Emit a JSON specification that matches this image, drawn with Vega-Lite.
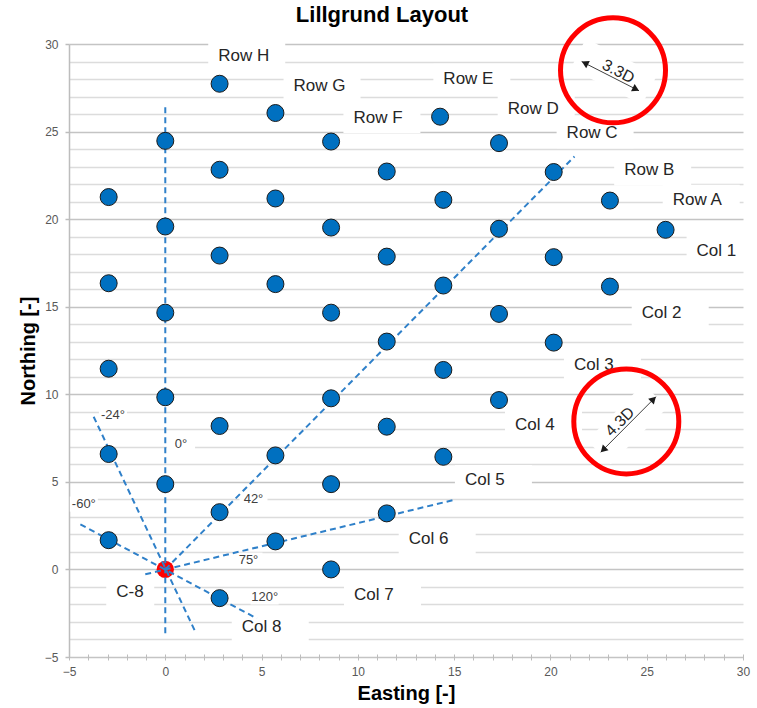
{
  "$schema": "https://vega.github.io/schema/vega-lite/v6.json",
  "width": 674,
  "height": 613,
  "autosize": "none",
  "padding": {"left": 69, "top": 44, "right": 14, "bottom": 51},
  "background": "white",
  "title": {"text": "Lillgrund Layout", "font": "Liberation Sans", "fontSize": 22, "fontWeight": "bold", "color": "#000000", "anchor": "middle", "frame": "group", "dx": -24, "baseline": "alphabetic", "offset": -36},
  "config": {"view": {"stroke": null}, "font": "Liberation Sans"},
  "datasets": {
    "turbines": [
      {"x": -2.94, "y": 21.26}, {"x": -2.94, "y": 16.34}, {"x": -2.94, "y": 11.46}, {"x": -2.94, "y": 6.59}, {"x": -2.94, "y": 1.67},
      {"x": 0, "y": 24.47}, {"x": 0, "y": 19.58}, {"x": 0, "y": 14.66}, {"x": 0, "y": 9.83}, {"x": 0, "y": 4.87},
      {"x": 2.82, "y": 27.73}, {"x": 2.82, "y": 22.82}, {"x": 2.82, "y": 17.92}, {"x": 2.82, "y": 8.19}, {"x": 2.82, "y": 3.27}, {"x": 2.82, "y": -1.64},
      {"x": 5.72, "y": 26.06}, {"x": 5.72, "y": 21.18}, {"x": 5.72, "y": 16.29}, {"x": 5.72, "y": 6.51}, {"x": 5.72, "y": 1.6},
      {"x": 8.61, "y": 24.43}, {"x": 8.61, "y": 19.52}, {"x": 8.61, "y": 14.66}, {"x": 8.61, "y": 9.77}, {"x": 8.61, "y": 4.87}, {"x": 8.61, "y": 0},
      {"x": 11.5, "y": 22.72}, {"x": 11.5, "y": 17.86}, {"x": 11.5, "y": 13.01}, {"x": 11.5, "y": 8.15}, {"x": 11.5, "y": 3.2},
      {"x": 14.27, "y": 25.85}, {"x": 14.44, "y": 21.1}, {"x": 14.44, "y": 16.21}, {"x": 14.44, "y": 11.39}, {"x": 14.44, "y": 6.43},
      {"x": 17.33, "y": 24.34}, {"x": 17.33, "y": 19.45}, {"x": 17.33, "y": 14.59}, {"x": 17.33, "y": 9.67},
      {"x": 20.17, "y": 22.69}, {"x": 20.17, "y": 17.83}, {"x": 20.17, "y": 12.95},
      {"x": 23.09, "y": 21.06}, {"x": 23.09, "y": 16.15},
      {"x": 25.98, "y": 19.39}
    ],
    "origin": [{"x": 0, "y": 0}],
    "rays": [
      {"x": 0, "y": -3.64, "x2": 0, "y2": 26.6},
      {"x": 0, "y": 0, "x2": 21.25, "y2": 23.58},
      {"x": -1.04, "y": -0.28, "x2": 14.96, "y2": 3.96},
      {"x": -4.41, "y": 2.57, "x2": 4.76, "y2": -2.8},
      {"x": -3.72, "y": 8.72, "x2": 1.56, "y2": -3.56}
    ],
    "labels": [
      {"label": "Row H", "x": 4.23, "y": 29.31, "group": "rc"},
      {"label": "Row G", "x": 8.14, "y": 27.62, "group": "rc"},
      {"label": "Row F", "x": 11.25, "y": 25.77, "group": "rc"},
      {"label": "Row E", "x": 15.92, "y": 28.02, "group": "rc"},
      {"label": "Row D", "x": 19.26, "y": 26.3, "group": "rc"},
      {"label": "Row C", "x": 22.32, "y": 24.91, "group": "rc"},
      {"label": "Row B", "x": 25.31, "y": 22.78, "group": "rc"},
      {"label": "Row A", "x": 27.83, "y": 21.1, "group": "rc"},
      {"label": "Col 1", "x": 29.07, "y": 18.19, "group": "rc"},
      {"label": "Col 2", "x": 26.22, "y": 14.63, "group": "rc"},
      {"label": "Col 3", "x": 22.7, "y": 11.67, "group": "rc"},
      {"label": "Col 4", "x": 19.64, "y": 8.25, "group": "rc"},
      {"label": "Col 5", "x": 17.04, "y": 5.1, "group": "rc"},
      {"label": "Col 6", "x": 14.12, "y": 1.71, "group": "rc"},
      {"label": "Col 7", "x": 11.28, "y": -1.47, "group": "rc"},
      {"label": "Col 8", "x": 5.45, "y": -3.28, "group": "rc"},
      {"label": "C-8", "x": -1.82, "y": -1.28, "group": "c8"},
      {"label": "-24°", "x": -2.72, "y": 8.82, "group": "ang"},
      {"label": "0°", "x": 0.82, "y": 7.16, "group": "ang"},
      {"label": "42°", "x": 4.58, "y": 4.02, "group": "ang"},
      {"label": "-60°", "x": -4.23, "y": 3.73, "group": "ang"},
      {"label": "75°", "x": 4.32, "y": 0.53, "group": "ang"},
      {"label": "120°", "x": 5.16, "y": -1.57, "group": "ang"}
    ],
    "dims": [
      {"label": "3.3D", "x": 23.52, "y": 28.43, "bx": 23.3, "by": 28.42, "cx": 23.25, "cy": 28.5, "dim": "row"},
      {"label": "4.3D", "x": 23.61, "y": 8.43, "bx": 23.98, "by": 8.3, "cx": 23.94, "cy": 8.45, "dim": "col"}
    ],
    "arrows": [
      {"x": 21.62, "y": 29.0, "x2": 24.6, "y2": 27.33},
      {"x": 22.61, "y": 6.69, "x2": 25.48, "y2": 9.86}
    ],
    "heads": [
      {"x": 21.79, "y": 28.91, "heading": 297},
      {"x": 24.44, "y": 27.42, "heading": 117},
      {"x": 22.74, "y": 6.83, "heading": 225},
      {"x": 25.35, "y": 9.72, "heading": 45}
    ]
  },
  "encoding": {
    "x": {
      "field": "x", "type": "quantitative",
      "scale": {"domain": [-5, 30], "nice": false, "zero": false},
      "axis": {
        "title": "Easting [-]",
        "values": [-5,-4,-3,-2,-1,0,1,2,3,4,5,6,7,8,9,10,11,12,13,14,15,16,17,18,19,20,21,22,23,24,25,26,27,28,29,30],
        "labelExpr": "datum.value % 5 === 0 ? datum.label : ''",
        "labelOverlap": false, "labelBound": false, "labelFlush": false,
        "grid": false, "domain": false, "offset": -3,
        "tickSize": 6, "tickColor": "#bdbdbd", "tickWidth": 1,
        "labelPadding": 6, "labelFontSize": 12, "labelColor": "#595959", "labelFont": "Liberation Sans",
        "titleFont": "Liberation Sans", "titleFontSize": 20, "titleFontWeight": "bold", "titleColor": "#000000", "titlePadding": 6
      }
    },
    "y": {
      "field": "y", "type": "quantitative",
      "scale": {"domain": [-5, 30], "nice": false, "zero": false},
      "axis": {
        "title": "Northing [-]",
        "values": [-5,-4,-3,-2,-1,0,1,2,3,4,5,6,7,8,9,10,11,12,13,14,15,16,17,18,19,20,21,22,23,24,25,26,27,28,29,30],
        "labelExpr": "datum.value % 5 === 0 ? datum.label : ''",
        "labelOverlap": false, "labelBound": false, "labelFlush": false,
        "grid": true,
        "gridColor": {"condition": {"test": "datum.value % 5 === 0", "value": "#c4c4c4"}, "value": "#dcdcdc"},
        "gridWidth": 1.5,
        "domain": true, "domainColor": "#bdbdbd", "domainWidth": 1.5,
        "tickSize": 4, "tickColor": "#bdbdbd", "tickWidth": 1.5,
        "tickOpacity": {"condition": {"test": "datum.value % 5 === 0", "value": 1}, "value": 0},
        "labelPadding": 7, "labelFontSize": 12, "labelColor": "#595959", "labelFont": "Liberation Sans",
        "titleFont": "Liberation Sans", "titleFontSize": 20, "titleFontWeight": "bold", "titleColor": "#000000", "titlePadding": 6
      }
    }
  },
  "layer": [
    {
      "data": {"name": "labels"},
      "transform": [{"filter": "datum.group === 'rc'"}],
      "mark": {"type": "point", "shape": "M-1,-0.39L1,-0.39L1,0.39L-1,0.39Z", "size": 5929, "filled": true, "fill": "white", "strokeWidth": 0, "opacity": 1}
    },
    {
      "data": {"name": "labels"},
      "transform": [{"filter": "datum.group === 'c8'"}],
      "mark": {"type": "point", "shape": "M-1,-0.625L1,-0.625L1,0.625L-1,0.625Z", "size": 2304, "filled": true, "fill": "white", "strokeWidth": 0, "opacity": 1}
    },
    {
      "data": {"name": "labels"},
      "transform": [{"filter": "datum.group === 'ang'"}],
      "mark": {"type": "point", "shape": "M-1,-0.54L1,-0.54L1,0.54L-1,0.54Z", "size": 784, "filled": true, "fill": "white", "strokeWidth": 0, "opacity": 1}
    },
    {
      "data": {"name": "dims"},
      "transform": [{"filter": "datum.dim === 'row'"}],
      "mark": {"type": "point", "shape": "M-1,-0.42L1,-0.42L1,0.42L-1,0.42Z", "size": 6400, "angle": 27, "filled": true, "fill": "white", "strokeWidth": 0, "opacity": 1},
      "encoding": {"x": {"field": "bx", "type": "quantitative"}, "y": {"field": "by", "type": "quantitative"}}
    },
    {
      "data": {"name": "dims"},
      "transform": [{"filter": "datum.dim === 'col'"}],
      "mark": {"type": "point", "shape": "M-1,-0.42L1,-0.42L1,0.42L-1,0.42Z", "size": 6400, "angle": 315, "filled": true, "fill": "white", "strokeWidth": 0, "opacity": 1},
      "encoding": {"x": {"field": "bx", "type": "quantitative"}, "y": {"field": "by", "type": "quantitative"}}
    },
    {
      "data": {"name": "origin"},
      "mark": {"type": "point", "shape": "circle", "size": 300, "filled": true, "fill": "#FF0000", "strokeWidth": 0, "opacity": 1}
    },
    {
      "data": {"name": "rays"},
      "mark": {"type": "rule", "color": "#2F80C9", "strokeWidth": 2, "strokeDash": [6, 4]},
      "encoding": {"x2": {"field": "x2"}, "y2": {"field": "y2"}}
    },
    {
      "data": {"name": "turbines"},
      "mark": {"type": "point", "shape": "circle", "size": 289, "filled": true, "fill": "#0070C0", "stroke": "#1a1a1a", "strokeWidth": 1, "opacity": 1}
    },
    {
      "data": {"name": "labels"},
      "transform": [{"filter": "datum.group === 'rc'"}],
      "mark": {"type": "text", "align": "left", "baseline": "middle", "dx": -28.5, "fontSize": 17, "font": "Liberation Sans", "color": "#262626"},
      "encoding": {"text": {"field": "label"}}
    },
    {
      "data": {"name": "labels"},
      "transform": [{"filter": "datum.group === 'c8'"}],
      "mark": {"type": "text", "align": "left", "baseline": "middle", "dx": -14, "fontSize": 17, "font": "Liberation Sans", "color": "#262626"},
      "encoding": {"text": {"field": "label"}}
    },
    {
      "data": {"name": "labels"},
      "transform": [{"filter": "datum.group === 'ang'"}],
      "mark": {"type": "text", "align": "center", "baseline": "middle", "fontSize": 13, "font": "Liberation Sans", "color": "#404040"},
      "encoding": {"text": {"field": "label"}}
    },
    {
      "data": {"name": "arrows"},
      "mark": {"type": "rule", "color": "#404040", "strokeWidth": 1},
      "encoding": {"x2": {"field": "x2"}, "y2": {"field": "y2"}}
    },
    {
      "data": {"name": "heads"},
      "mark": {"type": "point", "shape": "triangle-up", "size": 64, "filled": true, "fill": "#1a1a1a", "strokeWidth": 0, "opacity": 1},
      "encoding": {"angle": {"field": "heading", "type": "quantitative", "scale": null}}
    },
    {
      "data": {"name": "dims"},
      "transform": [{"filter": "datum.dim === 'row'"}],
      "mark": {"type": "text", "align": "center", "baseline": "middle", "angle": 27, "fontSize": 16, "font": "Liberation Sans", "color": "#262626"},
      "encoding": {"text": {"field": "label"}}
    },
    {
      "data": {"name": "dims"},
      "transform": [{"filter": "datum.dim === 'col'"}],
      "mark": {"type": "text", "align": "center", "baseline": "middle", "angle": 315, "fontSize": 16, "font": "Liberation Sans", "color": "#262626"},
      "encoding": {"text": {"field": "label"}}
    },
    {
      "data": {"name": "dims"},
      "mark": {"type": "point", "shape": "circle", "size": 11025, "filled": false, "stroke": "#FF0000", "strokeWidth": 5, "opacity": 1},
      "encoding": {"x": {"field": "cx", "type": "quantitative"}, "y": {"field": "cy", "type": "quantitative"}}
    }
  ]
}
